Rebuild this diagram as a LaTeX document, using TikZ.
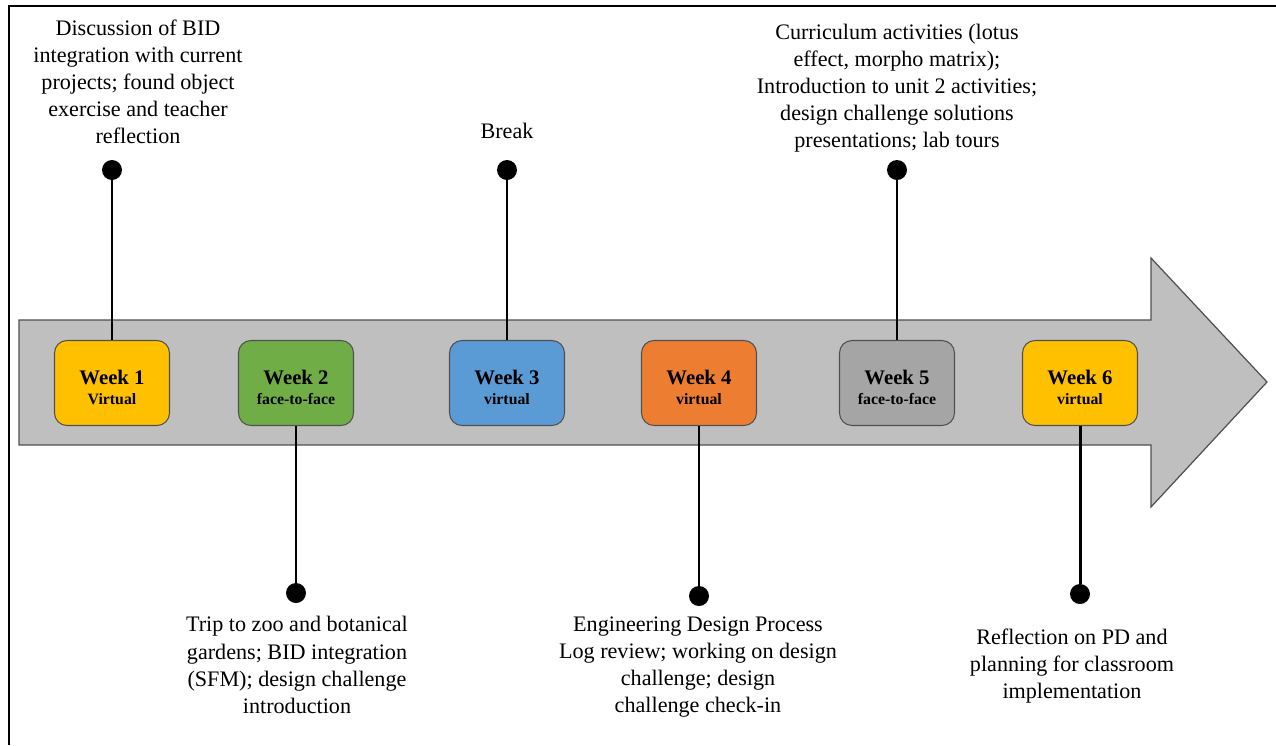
\documentclass[tikz,border=0pt]{standalone}
\usepackage{fontspec}
\setmainfont{Liberation Serif}
\usetikzlibrary{positioning, calc}
\definecolor{wkyellow}  {RGB}{255, 192,   0}
\definecolor{wkgreen}   {RGB}{112, 173,  71}
\definecolor{wkblue}    {RGB}{ 91, 155, 213}
\definecolor{wkorange}  {RGB}{237, 125,  49}
\definecolor{wkgray}    {RGB}{165, 165, 165}
\definecolor{arrowfill} {RGB}{191, 191, 191}
\definecolor{boxline}   {RGB}{ 80,  80,  80}

\tikzset{
	week/.style={draw=boxline, line width=0.6pt, rounded corners=0.25cm,
		minimum width=2.3cm, minimum height=1.7cm, align=center, inner sep=0pt},
	dot/.style={circle, fill=black, inner sep=0pt, minimum size=0.4cm},
	stem/.style={line width=1.7pt},
	note/.style={align=center, font=\fontsize{12.6}{15.4}\selectfont},
}
\newcommand{\wklabel}[2]{{\fontsize{11.8}{13}\selectfont\bfseries Week #1}\\[-0.5pt]{\fontsize{9}{10}\selectfont\bfseries #2}}

\begin{document}
\begin{tikzpicture}[x=0.02cm, y=-0.02cm]
	\useasboundingbox (0,0) rectangle (1276,745);
	% frame
	\draw[line width=1.6pt] (9,745) -- (9,6) -- (1276,6);
	% timeline arrow
	\draw[draw=boxline, line width=0.7pt, fill=arrowfill]
		(19,320) -- (1151,320) -- (1151,258) -- (1267,382) -- (1151,507) -- (1151,445) -- (19,445) -- cycle;
	% weeks and dots
	\foreach \i/\x/\col/\mode/\dy in {1/112/wkyellow/Virtual/170, 2/296/wkgreen/face-to-face/593,
		3/507/wkblue/virtual/170, 4/699/wkorange/virtual/596,
		5/897/wkgray/face-to-face/170, 6/1080/wkyellow/virtual/594}{
		\node[week, fill=\col] (w\i) at (\x,383) {\raisebox{-5pt}[0pt][0pt]{\parbox{2.2cm}{\centering\wklabel{\i}{\mode}}}};
		\node[dot] (d\i) at (\x,\dy) {};
	}
	\foreach \i in {1,...,6}{\draw[stem] (w\i) -- (d\i);}
	% notes
	\node[note] (n1) at (138,82) {Discussion of BID\\integration with current\\projects; found object\\exercise and teacher\\reflection};
	\node[note] (n3) at (507,131) {Break};
	\node[note] (n5) at (897,88) {Curriculum activities (lotus\\effect, morpho matrix);\\Introduction to unit 2 activities;\\design challenge solutions\\presentations; lab tours};
	\node[note] (n2) at (297,665) {Trip to zoo and botanical\\gardens; BID integration\\(SFM); design challenge\\introduction};
	\node[note] (n4) at (698,667) {Engineering Design Process\\Log review; working on design\\challenge; design\\challenge check-in};
	\node[note] (n6) at (1072,666) {Reflection on PD and\\planning for classroom\\implementation};
\end{tikzpicture}
\end{document}
